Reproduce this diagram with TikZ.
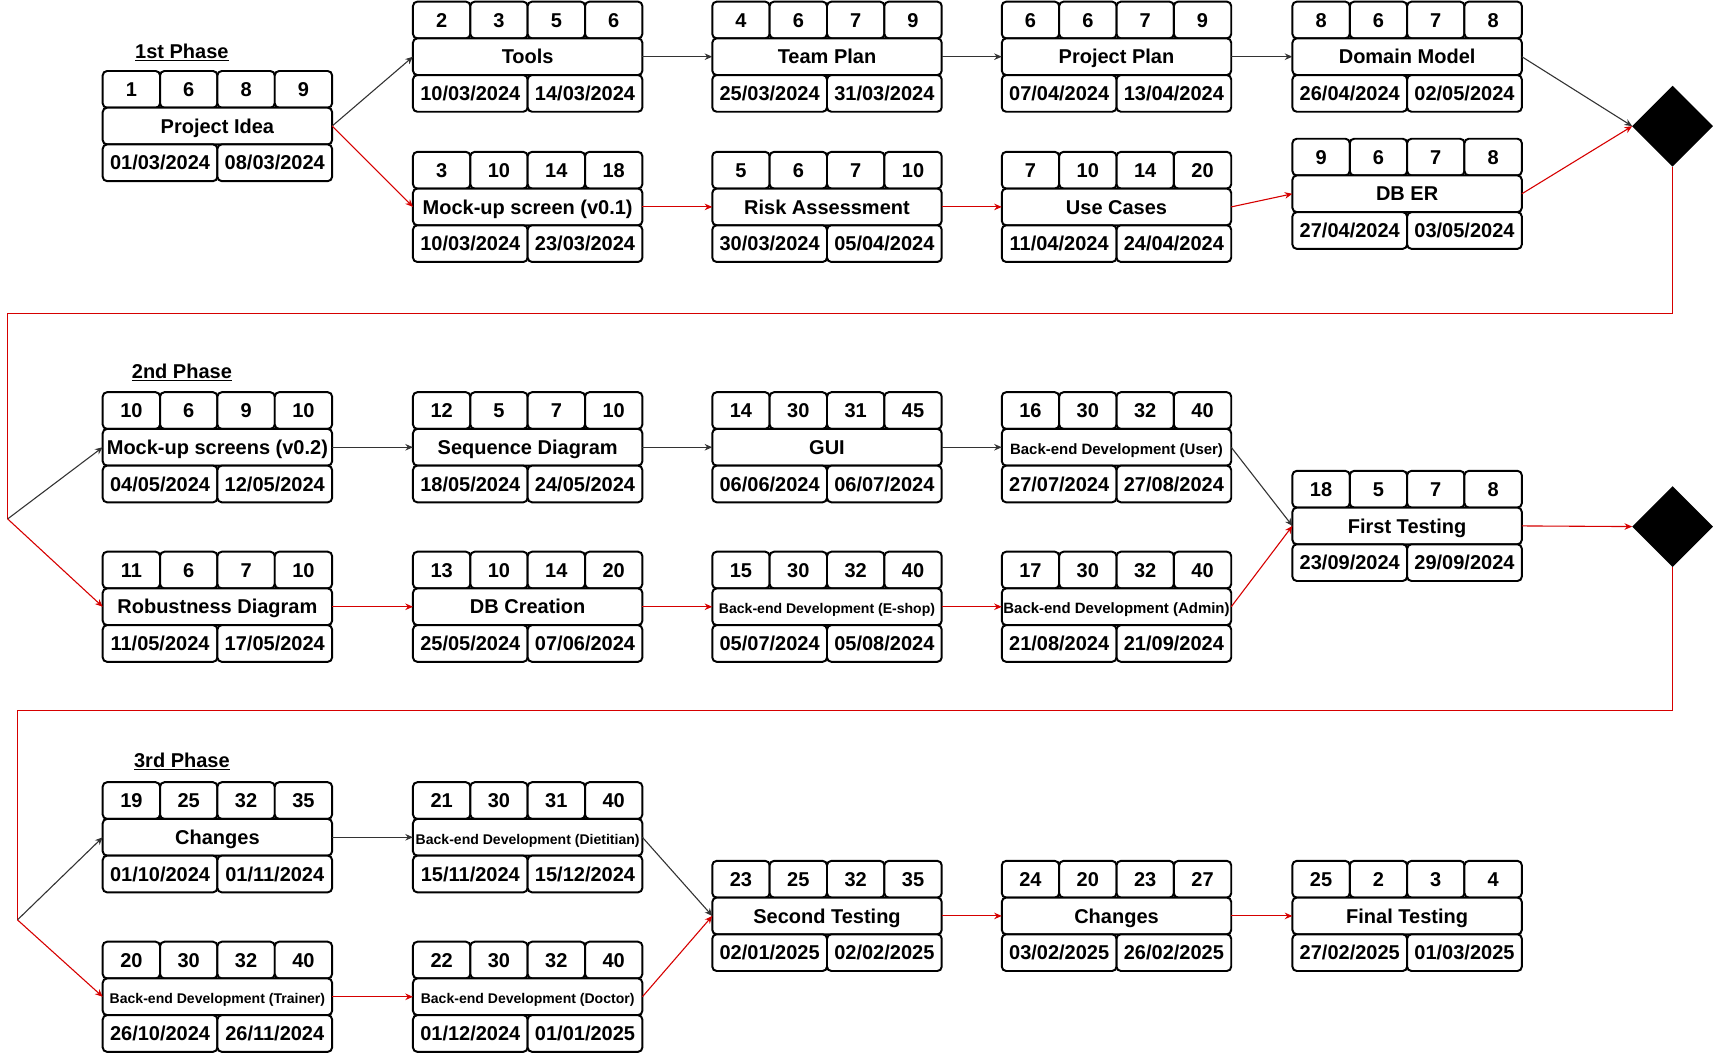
\documentclass[tikz,border=0pt]{standalone}
\usepackage{fontspec}
\setmainfont{Liberation Sans}
\usetikzlibrary{positioning, shapes.geometric, arrows.meta}
\definecolor{critred}{RGB}{214,0,0}
\tikzset{
    cell/.style={draw, line width=1.8pt, rounded corners=4pt, fill=white, inner sep=0pt, outer sep=0pt, minimum height=33.6pt, text height=13.1pt, text depth=0pt, font=\fontsize{18.3}{22}\selectfont\bfseries},
    numcell/.style={cell, minimum width=52.5pt},
    namecell/.style={cell, minimum width=210pt},
    datecell/.style={cell, minimum width=105pt},
    milestone/.style={diamond, fill=black, inner sep=0pt, outer sep=0pt, minimum width=74pt, minimum height=74pt},
    phase/.style={font=\fontsize{18.3}{22}\selectfont\bfseries},
    arrow/.style={-{Stealth[length=7pt, width=6pt]}, line width=1pt, black!80},
    critarrow/.style={-{Stealth[length=7pt, width=6pt]}, line width=1pt, critred},
    critline/.style={line width=1pt, critred}
}
\newcommand{\smalltask}{\fontsize{12.85}{16}\selectfont}
\newcommand{\midtask}{\fontsize{13.7}{16}\selectfont}
% #1 name, #2 top left corner, #3-#6 numbers, #7 task, #8 start, #9 end
\newcommand{\taskblock}[9]{%
    \node[numcell, anchor=north west] (#1-n1) at #2 {#3};
    \node[numcell, right=0pt of #1-n1] (#1-n2) {#4};
    \node[numcell, right=0pt of #1-n2] (#1-n3) {#5};
    \node[numcell, right=0pt of #1-n3] (#1-n4) {#6};
    \node[namecell, anchor=north west] (#1) at (#1-n1.south west) {#7};
    \node[datecell, anchor=north west] (#1-start) at (#1.south west) {#8};
    \node[datecell, right=0pt of #1-start] (#1-end) {#9};
}

\begin{document}
\begin{tikzpicture}[x=1pt, y=-1pt]
    \useasboundingbox (0,0) rectangle (1568,963);

    % 1st Phase
    \node[phase] (phase1) at (166.5,48) {\underline{1st Phase}};
    \taskblock{idea}{(94,65)}{1}{6}{8}{9}{Project Idea}{01/03/2024}{08/03/2024}
    \taskblock{tools}{(378,1.5)}{2}{3}{5}{6}{Tools}{10/03/2024}{14/03/2024}
    \taskblock{teamplan}{(652,1.5)}{4}{6}{7}{9}{Team Plan}{25/03/2024}{31/03/2024}
    \taskblock{projplan}{(917,1.5)}{6}{6}{7}{9}{Project Plan}{07/04/2024}{13/04/2024}
    \taskblock{domain}{(1183,1.5)}{8}{6}{7}{8}{Domain Model}{26/04/2024}{02/05/2024}
    \taskblock{mockup}{(378,139)}{3}{10}{14}{18}{Mock-up screen (v0.1)}{10/03/2024}{23/03/2024}
    \taskblock{risk}{(652,139)}{5}{6}{7}{10}{Risk Assessment}{30/03/2024}{05/04/2024}
    \taskblock{usecases}{(917,139)}{7}{10}{14}{20}{Use Cases}{11/04/2024}{24/04/2024}
    \taskblock{dber}{(1183,127)}{9}{6}{7}{8}{DB ER}{27/04/2024}{03/05/2024}
    \node[milestone] (ms1) at (1531,115.5) {};

    \draw[arrow] (idea.east) -- (tools.west);
    \draw[critarrow] (idea.east) -- (mockup.west);
    \draw[arrow] (tools.east) -- (teamplan.west);
    \draw[arrow] (teamplan.east) -- (projplan.west);
    \draw[arrow] (projplan.east) -- (domain.west);
    \draw[critarrow] (mockup.east) -- (risk.west);
    \draw[critarrow] (risk.east) -- (usecases.west);
    \draw[critarrow] (usecases.east) -- (dber.west);
    \draw[arrow] (domain.east) -- (ms1.west);
    \draw[critarrow] (dber.east) -- (ms1.west);

    % 2nd Phase
    \node[phase] (phase2) at (166.5,341) {\underline{2nd Phase}};
    \taskblock{mockuptwo}{(94,359)}{10}{6}{9}{10}{Mock-up screens (v0.2)}{04/05/2024}{12/05/2024}
    \taskblock{sequence}{(378,359)}{12}{5}{7}{10}{Sequence Diagram}{18/05/2024}{24/05/2024}
    \taskblock{gui}{(652,359)}{14}{30}{31}{45}{GUI}{06/06/2024}{06/07/2024}
    \taskblock{beuser}{(917,359)}{16}{30}{32}{40}{\midtask Back-end Development (User)}{27/07/2024}{27/08/2024}
    \taskblock{robust}{(94,505)}{11}{6}{7}{10}{Robustness Diagram}{11/05/2024}{17/05/2024}
    \taskblock{dbcreate}{(378,505)}{13}{10}{14}{20}{DB Creation}{25/05/2024}{07/06/2024}
    \taskblock{beshop}{(652,505)}{15}{30}{32}{40}{\smalltask Back-end Development (E-shop)}{05/07/2024}{05/08/2024}
    \taskblock{beadmin}{(917,505)}{17}{30}{32}{40}{\midtask Back-end Development (Admin)}{21/08/2024}{21/09/2024}
    \taskblock{firsttest}{(1183,431)}{18}{5}{7}{8}{First Testing}{23/09/2024}{29/09/2024}
    \node[milestone] (ms2) at (1531,482) {};

    \coordinate (turn1) at (7,287);
    \coordinate (split1) at (7,475);
    \draw[critline] (ms1.south) |- (turn1) -- (split1);
    \draw[arrow] (split1) -- (mockuptwo.west);
    \draw[critarrow] (split1) -- (robust.west);
    \draw[arrow] (mockuptwo.east) -- (sequence.west);
    \draw[arrow] (sequence.east) -- (gui.west);
    \draw[arrow] (gui.east) -- (beuser.west);
    \draw[critarrow] (robust.east) -- (dbcreate.west);
    \draw[critarrow] (dbcreate.east) -- (beshop.west);
    \draw[critarrow] (beshop.east) -- (beadmin.west);
    \draw[arrow] (beuser.east) -- (firsttest.west);
    \draw[critarrow] (beadmin.east) -- (firsttest.west);
    \draw[critarrow] (firsttest.east) -- (ms2.west);

    % 3rd Phase
    \node[phase] (phase3) at (166.5,697) {\underline{3rd Phase}};
    \taskblock{changes}{(94,716)}{19}{25}{32}{35}{Changes}{01/10/2024}{01/11/2024}
    \taskblock{bediet}{(378,716)}{21}{30}{31}{40}{\smalltask Back-end Development (Dietitian)}{15/11/2024}{15/12/2024}
    \taskblock{betrain}{(94,862)}{20}{30}{32}{40}{\smalltask Back-end Development (Trainer)}{26/10/2024}{26/11/2024}
    \taskblock{bedoc}{(378,862)}{22}{30}{32}{40}{\smalltask Back-end Development (Doctor)}{01/12/2024}{01/01/2025}
    \taskblock{secondtest}{(652,788)}{23}{25}{32}{35}{Second Testing}{02/01/2025}{02/02/2025}
    \taskblock{changestwo}{(917,788)}{24}{20}{23}{27}{Changes}{03/02/2025}{26/02/2025}
    \taskblock{finaltest}{(1183,788)}{25}{2}{3}{4}{Final Testing}{27/02/2025}{01/03/2025}

    \coordinate (turn2) at (16,650);
    \coordinate (split2) at (16,842);
    \draw[critline] (ms2.south) |- (turn2) -- (split2);
    \draw[arrow] (split2) -- (changes.west);
    \draw[critarrow] (split2) -- (betrain.west);
    \draw[arrow] (changes.east) -- (bediet.west);
    \draw[critarrow] (betrain.east) -- (bedoc.west);
    \draw[arrow] (bediet.east) -- (secondtest.west);
    \draw[critarrow] (bedoc.east) -- (secondtest.west);
    \draw[critarrow] (secondtest.east) -- (changestwo.west);
    \draw[critarrow] (changestwo.east) -- (finaltest.west);
\end{tikzpicture}
\end{document}
